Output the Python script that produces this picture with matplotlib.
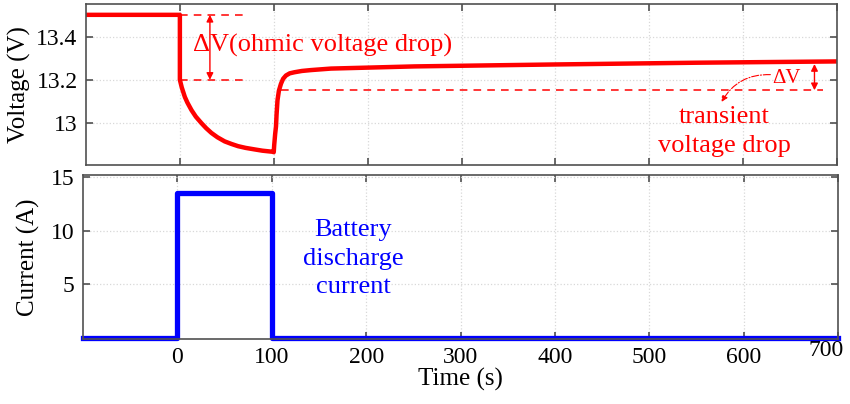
import matplotlib
matplotlib.use("Agg")
import matplotlib.pyplot as plt
from matplotlib.transforms import ScaledTranslation

plt.rcParams["font.family"] = ["Liberation Serif", "DejaVu Serif"]

# voltage trace (s, V)
volt_t = [-100, 0, 0, 2, 5.3, 8, 12.4, 17, 23, 28, 33.6, 40, 47.7, 55,
          61.9, 70, 79.5, 88, 99, 100, 100.5, 101.5, 102.4, 103, 104, 105.5,
          107.7, 110, 113, 117, 122, 130, 139.5, 161, 250, 400, 550, 700]
volt_v = [13.5, 13.5, 13.2, 13.165, 13.121, 13.095, 13.06, 13.03, 13.0,
          12.977, 12.955, 12.935, 12.916, 12.904, 12.894, 12.886, 12.879,
          12.873, 12.868, 12.866, 12.9, 12.95, 12.985, 13.04, 13.106, 13.15,
          13.182, 13.205, 13.22, 13.23, 13.235, 13.241, 13.245, 13.252,
          13.262, 13.271, 13.279, 13.285]

# current trace (s, A)
curr_t = [-100, 0, 0, 100, 100, 700]
curr_a = [0, 0, 13.5, 13.5, 0, 0]

x_ticks = [0, 100, 200, 300, 400, 500, 600, 700]
v_ticks = [13.0, 13.2, 13.4]
v_tick_labels = ["13", "13.2", "13.4"]
a_ticks = [5, 10, 15]

v_before = 13.5
v_after_jump = 13.2
v_transient = 13.152
v_end = 13.273

red = "#ff0000"
blue = "#0000ff"
frame = "#505050"

fig = plt.figure(figsize=(8.5, 4.04), dpi=100)
ax_v = fig.add_axes([86 / 850, 1 - 165 / 404, 751 / 850, 161 / 404])
ax_i = fig.add_axes([83 / 850, 1 - 339 / 404, 755 / 850, 164 / 404])


def style(ax):
    ax.set_xlim(-100, 700)
    ax.set_xticks(x_ticks)
    ax.tick_params(direction="in", length=5, width=1.2, top=True, right=True,
                   labelsize=17, color=frame, pad=6)
    ax.grid(True, color="#d8d8d8", linestyle=":", linewidth=0.9)
    for s in ax.spines.values():
        s.set_color(frame)
        s.set_linewidth(1.2)


style(ax_v)
style(ax_i)

# voltage panel
ax_v.plot(volt_t, volt_v, color=red, lw=3.2, solid_joinstyle="round")
ax_v.set_ylim(12.807, 13.55)
ax_v.set_yticks(v_ticks)
ax_v.set_yticklabels(v_tick_labels)
ax_v.tick_params(labelbottom=False)
ax_v.set_ylabel("Voltage (V)", fontsize=18, labelpad=4)

dash = dict(color=red, lw=1.1, linestyle=(0, (5, 4)))
ax_v.plot([0, 72], [v_before, v_before], **dash)
ax_v.plot([0, 72], [v_after_jump, v_after_jump], **dash)
ax_v.plot([108, 685], [v_transient, v_transient], **dash)

arr = dict(arrowstyle="<|-|>", color=red, lw=1.0, mutation_scale=10,
           shrinkA=0, shrinkB=0)
ax_v.annotate("", xy=(32, v_before), xytext=(32, v_after_jump), arrowprops=arr)
ax_v.annotate("", xy=(676, v_end), xytext=(676, v_transient), arrowprops=arr)

ax_v.text(14, 13.36, "ΔV(ohmic voltage drop)", color=red, fontsize=19,
          va="center", ha="left")
ax_v.text(646, 13.206, "ΔV", color=red, fontsize=15, va="center", ha="center")
ax_v.annotate("", xy=(577, 13.098), xytext=(629, 13.224),
              arrowprops=dict(arrowstyle="-|>", color=red, lw=0.8,
                              linestyle="-.", mutation_scale=9,
                              connectionstyle="arc3,rad=0.3",
                              shrinkA=0, shrinkB=0))
ax_v.text(580, 12.96, "transient\nvoltage drop", color=red, fontsize=19,
          va="center", ha="center", linespacing=1.4)

# current panel
ax_i.plot(curr_t, curr_a, color=blue, lw=3.8, clip_on=False)
ax_i.set_ylim(-0.1, 15.2)
ax_i.set_yticks(a_ticks)
ax_i.set_ylabel("Current (A)", fontsize=18, labelpad=8)
ax_i.set_xlabel("Time (s)", fontsize=18, labelpad=0)
ax_i.text(186, 7.4, "Battery\ndischarge\ncurrent", color=blue, fontsize=19,
          va="center", ha="center", linespacing=1.4)

# last x tick label sits inside the figure, a bit raised, as in the source
last = ax_i.get_xticklabels()[-1]
last.set_transform(last.get_transform()
                   + ScaledTranslation(-12 / 100, 7 / 100, fig.dpi_scale_trans))

fig.savefig("out.png", dpi=100)
